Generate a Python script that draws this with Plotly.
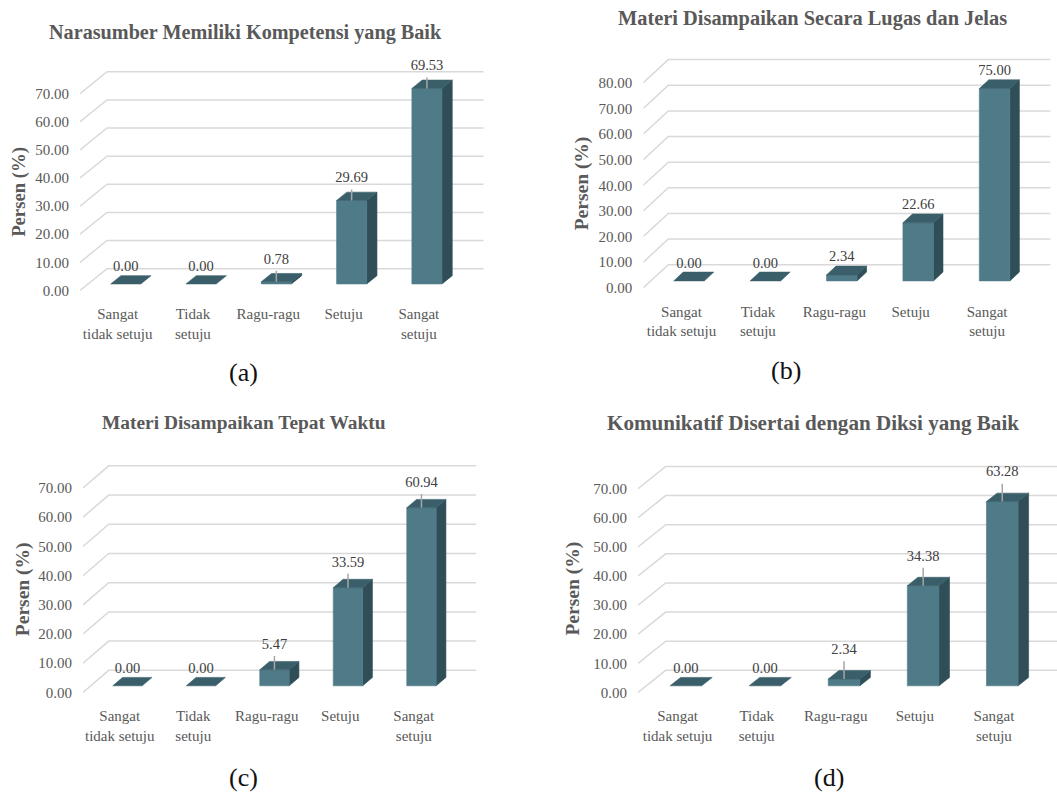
import plotly.graph_objects as go

W, H = 1057, 798

# ---------------- data ----------------
categories = ["Sangat<br>tidak setuju", "Tidak<br>setuju", "Ragu-ragu", "Setuju", "Sangat<br>setuju"]
titles = [
    "Narasumber Memiliki Kompetensi yang Baik",
    "Materi Disampaikan Secara Lugas dan Jelas",
    "Materi Disampaikan Tepat Waktu",
    "Komunikatif Disertai dengan Diksi yang Baik",
]
captions = ["(a)", "(b)", "(c)", "(d)"]
values_a = [0.00, 0.00, 0.78, 29.69, 69.53]
values_b = [0.00, 0.00, 2.34, 22.66, 75.00]
values_c = [0.00, 0.00, 5.47, 33.59, 60.94]
values_d = [0.00, 0.00, 2.34, 34.38, 63.28]
y_max = [70, 80, 70, 70]
y_step = 10
y_title = "Persen (%)"

all_values = [values_a, values_b, values_c, values_d]

# ---------------- layout / style (pixel geometry) ----------------
panels = [
    dict(fx0=80, s=75.3, front0=292.7, k=2.834, dx=27, dy=22,
         title_xy=(245.5, 32.3), title_size=20.2, yt_xy=(18.3, 193), yt_size=18.7,
         cap_xy=(243.3, 375), lab_off=22, leader=True),
    dict(fx0=643.3, s=76.4, front0=290, k=2.583, dx=25, dy=23.3,
         title_xy=(812, 18.3), title_size=20.4, yt_xy=(581.7, 185), yt_size=19.5,
         cap_xy=(786, 373.3), lab_off=17.5, leader=False),
    dict(fx0=83, s=73.5, front0=697.7, k=2.943, dx=25.7, dy=22.3,
         title_xy=(244.3, 426), title_size=19.4, yt_xy=(23.3, 593.3), yt_size=19.5,
         cap_xy=(243.3, 783.3), lab_off=25, leader=True),
    dict(fx0=638, s=79.1, front0=697.7, k=2.934, dx=27.7, dy=22.3,
         title_xy=(812.7, 426), title_size=21.1, yt_xy=(572.7, 593.3), yt_size=19.5,
         cap_xy=(829.3, 783.3), lab_off=29, leader=True),
]

FONT = "Liberation Serif, Tinos, Times New Roman, serif"
C_FRONT = "#4f7b88"
C_TOP = "#3b5f6a"
C_SIDE = "#2f4e57"
C_GRID = "#d9d9d9"
C_TEXT = "#595959"
C_LABEL = "#404040"
BAR_W = 0.4
F0, F1 = 0.30, 0.68
ZERO_OFF = 17

fig = go.Figure()
annotations = []
layout_axes = {}

for i, (p, vals) in enumerate(zip(panels, all_values)):
    ax = "" if i == 0 else str(i + 1)
    xref, yref = "x" + ax, "y" + ax
    s, k = p["s"], p["k"]
    ddx = p["dx"] / s          # full depth in category units
    ddy = p["dy"] / k          # full depth in value units
    ym = y_max[i]
    n = len(categories)
    cats = list(range(n))

    # axes geometry
    x_right_px = min(p["fx0"] + n * s + p["dx"] + 2, W)
    xr = [-0.5, -0.5 + (x_right_px - p["fx0"]) / s]
    xdom = [p["fx0"] / W, x_right_px / W]
    ybot_px = p["front0"] + 2
    ytop_px = p["front0"] - (ym + ddy) * k - 40
    yr = [-2 / k, (p["front0"] - ytop_px) / k]
    ydom = [1 - ybot_px / H, 1 - ytop_px / H]

    layout_axes["xaxis" + ax] = dict(
        domain=xdom, range=xr, anchor=yref, tickvals=cats, ticktext=categories,
        showgrid=False, zeroline=False, showline=False, ticks="",
        tickfont=dict(family=FONT, size=15, color=C_TEXT), ticklabelstandoff=11,
        fixedrange=True,
    )
    layout_axes["yaxis" + ax] = dict(
        domain=ydom, range=yr, anchor=xref,
        tickvals=list(range(0, ym + 1, y_step)),
        ticktext=[f"{v:.2f}" for v in range(0, ym + 1, y_step)],
        showgrid=False, zeroline=False, showline=False, ticks="",
        tickfont=dict(family=FONT, size=15, color=C_TEXT), ticklabelstandoff=10,
        fixedrange=True,
    )

    # gridlines: diagonal side wall + back wall
    gx, gy = [], []
    for v in range(0, ym + 1, y_step):
        gx += [-0.5, -0.5 + ddx, n - 0.5 + ddx, None]
        gy += [v, v + ddy, v + ddy, None]
    fig.add_trace(go.Scatter(x=gx, y=gy, mode="lines", xaxis=xref, yaxis=yref,
                             line=dict(color=C_GRID, width=1.5), hoverinfo="skip",
                             showlegend=False))

    # bars as 3D boxes
    bdx, bdy = (F1 - F0) * ddx, (F1 - F0) * ddy
    base = F0 * ddy
    fx, fy, tx, ty, sx, sy = [], [], [], [], [], []
    for c, v in zip(cats, vals):
        xc = c + F0 * ddx
        xl, xrr = xc - BAR_W / 2, xc + BAR_W / 2
        top = base + v
        if v > 0:
            fx += [xl, xrr, xrr, xl, xl, None]
            fy += [base, base, top, top, base, None]
            sx += [xrr, xrr + bdx, xrr + bdx, xrr, xrr, None]
            sy += [base, base + bdy, top + bdy, top, base, None]
        tx += [xl, xrr, xrr + bdx, xl + bdx, xl, None]
        ty += [top, top, top + bdy, top + bdy, top, None]
    for X, Y, col in ((sx, sy, C_SIDE), (fx, fy, C_FRONT), (tx, ty, C_TOP)):
        fig.add_trace(go.Scatter(x=X, y=Y, mode="lines", fill="toself", fillcolor=col,
                                 line=dict(color=col, width=0.6), xaxis=xref, yaxis=yref,
                                 hoverinfo="skip", showlegend=False))

    # leader lines and data labels
    lx, ly, tpx, tpy, txt = [], [], [], [], []
    for c, v in zip(cats, vals):
        xc = c + F0 * ddx
        top = base + v
        off = p["lab_off"] if v > 0 else ZERO_OFF
        lab_y = top + off / k
        tpx.append(xc)
        tpy.append(lab_y)
        txt.append(f"{v:.2f}")
        if p["leader"] and v > 0:
            lx += [xc, xc, None]
            ly += [top, lab_y - 11 / k, None]
    if lx:
        fig.add_trace(go.Scatter(x=lx, y=ly, mode="lines", xaxis=xref, yaxis=yref,
                                 line=dict(color="#a6a6a6", width=1.5), hoverinfo="skip",
                                 showlegend=False))
    fig.add_trace(go.Scatter(x=tpx, y=tpy, mode="text", text=txt, textposition="middle center",
                             textfont=dict(family=FONT, size=14.5, color=C_LABEL),
                             xaxis=xref, yaxis=yref, hoverinfo="skip", showlegend=False,
                             cliponaxis=False))

    # title, y-axis title, caption
    annotations.append(dict(text=f"<b>{titles[i]}</b>", x=p["title_xy"][0] / W,
                            y=1 - p["title_xy"][1] / H, xref="paper", yref="paper",
                            xanchor="center", yanchor="middle", showarrow=False,
                            font=dict(family=FONT, size=p["title_size"], color=C_TEXT)))
    annotations.append(dict(text=f"<b>{y_title}</b>", x=p["yt_xy"][0] / W,
                            y=1 - p["yt_xy"][1] / H, xref="paper", yref="paper",
                            xanchor="center", yanchor="middle", showarrow=False, textangle=-90,
                            font=dict(family=FONT, size=p["yt_size"], color=C_TEXT)))
    annotations.append(dict(text=captions[i], x=p["cap_xy"][0] / W,
                            y=1 - p["cap_xy"][1] / H, xref="paper", yref="paper",
                            xanchor="center", yanchor="middle", showarrow=False,
                            font=dict(family=FONT, size=26, color="#111111")))

fig.update_layout(
    width=W, height=H, margin=dict(l=0, r=0, t=0, b=0),
    paper_bgcolor="white", plot_bgcolor="rgba(0,0,0,0)",
    showlegend=False, annotations=annotations, **layout_axes,
)

fig.write_html("out.html", config={"displayModeBar": False})
